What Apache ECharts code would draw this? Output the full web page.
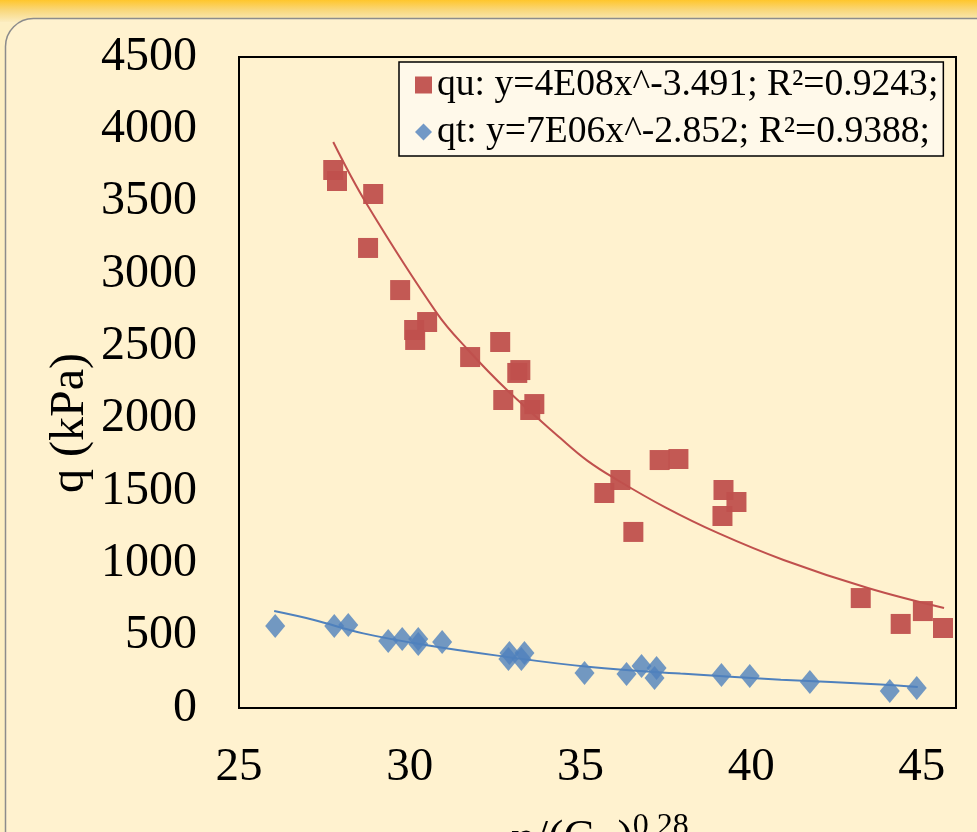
<!DOCTYPE html>
<html>
<head>
<meta charset="utf-8">
<script src="https://cdn.jsdelivr.net/npm/echarts@6/dist/echarts.min.js"></script>
<style>
  html, body { margin: 0; padding: 0; background: #fdefc3; }
  #chart { width: 977px; height: 832px; }
</style>
</head>
<body>
<div id="chart"></div>
<script>
// measured points (x = n/(Civ)^0.28, y = q in kPa)
const quX = [27.76, 27.87, 28.93, 28.78, 29.72, 30.13, 30.16, 30.51, 31.77, 32.65, 32.74, 33.15, 33.24, 33.53, 33.65,
  35.70, 36.17, 36.55, 37.32, 37.87, 39.19, 39.16, 39.57, 43.21, 44.38, 45.03, 45.62];
const quY = [3719, 3643, 3553, 3180, 2889, 2613, 2544, 2668, 2426, 2530, 2129, 2316, 2336, 2060, 2101,
  1486, 1576, 1217, 1714, 1721, 1507, 1327, 1424, 760, 581, 670, 553];

const qtX = [26.06, 27.79, 28.20, 29.37, 29.78, 30.25, 30.25, 30.95, 32.92, 32.89, 33.36, 33.27,
  35.12, 36.35, 36.79, 37.23, 37.17, 39.13, 39.96, 41.72, 44.06, 44.85];
const qtY = [567, 567, 574, 463, 477, 477, 442, 456, 380, 339, 380, 339,
  242, 235, 290, 276, 207, 228, 221, 180, 118, 138];

// trend lines
const quFitX = [27.76, 28.75, 30.80, 31.69, 32.85, 34.41, 35.2, 36.08, 37.5, 39.02, 40.95, 43.42, 45.65];
const quFitY = [3912, 3480, 2728, 2480, 2198, 1866, 1710, 1576, 1385, 1210, 1023, 829, 691];
const qtFitX = [26.03, 27.17, 28.64, 30.60, 32.57, 35.29, 37.93, 40.87, 43.80, 44.88];
const qtFitY = [670, 610, 516, 430, 362, 283, 238, 196, 162, 145];

const quName = 'qu: y=4E08x^-3.491; R²=0.9243;';
const qtName = 'qt: y=7E06x^-2.852; R²=0.9388;';
const xTicks = [25, 30, 35, 40, 45];
const yTicks = [0, 500, 1000, 1500, 2000, 2500, 3000, 3500, 4000, 4500];

const FONT = '"Liberation Serif", "Times New Roman", serif';
const RED = '#C0504D';
const BLUE = '#4F81BD';

function zip(xs, ys) {
  return xs.map((x, i) => [x, ys[i]]);
}

const chart = echarts.init(document.getElementById('chart'));

chart.setOption({
  animation: false,
  backgroundColor: '#fdefc3',
  graphic: [
    {
      type: 'rect', z: -10, silent: true,
      shape: { x: 0, y: 0, width: 977, height: 22 },
      style: {
        fill: new echarts.graphic.LinearGradient(0, 0, 0, 1, [
          { offset: 0, color: '#ffc62c' },
          { offset: 0.45, color: '#f9d77a' },
          { offset: 1, color: '#fbecbf' }
        ])
      }
    },
    {
      type: 'rect', z: -9, silent: true,
      shape: { x: 5.5, y: 18.5, width: 1000, height: 900, r: 28 },
      style: { fill: '#fff2cf', stroke: '#8c8c8c', lineWidth: 1.5 }
    },
    {
      type: 'text', z: 10,
      x: 70, y: 423, rotation: Math.PI / 2,
      style: {
        text: 'q (kPa)',
        font: '48px ' + FONT,
        fill: '#000',
        align: 'center',
        verticalAlign: 'middle'
      }
    },
    {
      type: 'text', z: 10,
      x: 600, y: 811,
      style: {
        text: '{m|η/(C}{s|iv}{m|)}{p|0,28}',
        align: 'center',
        verticalAlign: 'top',
        rich: {
          m: { fontFamily: FONT, fontSize: 46, color: '#000', verticalAlign: 'top', padding: [6, 0, 0, 0] },
          s: { fontFamily: FONT, fontSize: 30, color: '#000', verticalAlign: 'top', padding: [40, 0, 0, 0] },
          p: { fontFamily: FONT, fontSize: 32, color: '#000', verticalAlign: 'top', padding: [0, 0, 0, 0] }
        }
      }
    }
  ],
  grid: {
    left: 239,
    top: 57,
    right: 21,
    bottom: 124,
    show: true,
    borderColor: '#000',
    borderWidth: 2,
    backgroundColor: 'transparent'
  },
  legend: {
    data: [quName, qtName],
    orient: 'vertical',
    left: 399,
    top: 62,
    padding: [3, 5, 4, 16],
    itemGap: 7,
    itemWidth: 17,
    itemHeight: 17,
    backgroundColor: '#fff9ea',
    borderColor: '#000',
    borderWidth: 1.5,
    borderRadius: 0,
    textStyle: { fontFamily: FONT, fontSize: 37.6, color: '#000', lineHeight: 40 }
  },
  xAxis: {
    type: 'value',
    min: xTicks[0],
    max: 46,
    interval: 5,
    axisLine: { show: false },
    axisTick: { show: false },
    splitLine: { show: false },
    axisLabel: {
      showMaxLabel: false,
      margin: 36,
      fontFamily: FONT,
      fontSize: 47,
      color: '#000',
      formatter: (v) => (xTicks.includes(v) ? String(v) : '')
    }
  },
  yAxis: {
    type: 'value',
    min: yTicks[0],
    max: yTicks[yTicks.length - 1],
    interval: 500,
    axisLine: { show: false },
    axisTick: { show: false },
    splitLine: { show: false },
    axisLabel: {
      margin: 42,
      fontFamily: FONT,
      fontSize: 48,
      color: '#000',
      formatter: (v) => String(v)
    }
  },
  series: [
    {
      name: 'quFit',
      type: 'line',
      data: zip(quFitX, quFitY),
      smooth: 0.4,
      showSymbol: false,
      silent: true,
      z: 3,
      lineStyle: { color: RED, width: 2 }
    },
    {
      name: 'qtFit',
      type: 'line',
      data: zip(qtFitX, qtFitY),
      smooth: 0.4,
      showSymbol: false,
      silent: true,
      z: 3,
      lineStyle: { color: BLUE, width: 2 }
    },
    {
      name: quName,
      type: 'scatter',
      symbol: 'rect',
      symbolSize: 20,
      data: zip(quX, quY),
      z: 2,
      itemStyle: { color: RED, opacity: 0.95 }
    },
    {
      name: qtName,
      type: 'scatter',
      symbol: 'diamond',
      symbolSize: [20, 24],
      data: zip(qtX, qtY),
      z: 2,
      itemStyle: { color: BLUE }
    }
  ]
});
</script>
</body>
</html>
